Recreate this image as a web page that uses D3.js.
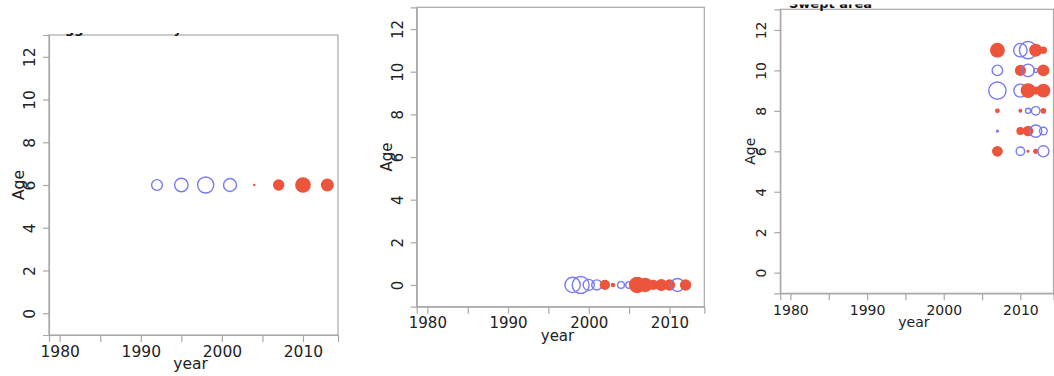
<!DOCTYPE html>
<html>
<head>
<meta charset="utf-8">
<script src="https://cdn.jsdelivr.net/npm/d3@7"></script>
<style>
  html, body { margin: 0; padding: 0; background: #fff; }
  svg { display: block; }
</style>
</head>
<body>
<svg id="chart" width="1054" height="376"></svg>
<script>
// Axis ticks shared by all three residual panels
const yearTicks = [1980, 1985, 1990, 1995, 2000, 2005, 2010];
const yearLabels = [1980, 1990, 2000, 2010];
const ageTicks = [0, 2, 4, 6, 8, 10, 12];

// Fleet titles
const fleetNames = ["Egg index survey", "", "Swept area"];

// Fleet 1: egg survey residuals (age 6 only)
const eggYear  = [1992, 1995, 1998, 2001, 2004, 2007, 2010, 2013];
const eggAge   = [6, 6, 6, 6, 6, 6, 6, 6];
const eggResid = [-0.9, -1.4, -2.0, -1.3, 0.05, 1.0, 1.9, 1.3];

// Fleet 2: recruitment index residuals (age 0)
const recYear  = [1998, 1999, 2000, 2001, 2002, 2003, 2004, 2005, 2006, 2007, 2008, 2009, 2010, 2011, 2012];
const recAge   = [0, 0, 0, 0, 0, 0, 0, 0, 0, 0, 0, 0, 0, 0, 0];
const recResid = [-1.8, -2.2, -0.95, -0.8, 0.8, 0.15, -0.35, -0.35, 2.1, 1.6, 0.8, 1.1, 1.0, -1.3, 1.0];

// Fleet 3: swept-area survey residuals (ages 6-11)
const sweptYear  = [2007, 2010, 2011, 2012, 2013,
                    2007, 2010, 2011, 2012, 2013,
                    2007, 2010, 2011, 2012, 2013,
                    2007, 2010, 2011, 2012, 2013,
                    2007, 2010, 2011, 2012, 2013,
                    2007, 2010, 2011, 2012, 2013];
const sweptAge   = [11, 11, 11, 11, 11,
                    10, 10, 10, 10, 10,
                     9,  9,  9,  9,  9,
                     8,  8,  8,  8,  8,
                     7,  7,  7,  7,  7,
                     6,  6,  6,  6,  6];
const sweptResid = [ 1.7, -1.4, -2.3,  1.3,  0.4,
                    -0.85, 0.95, -1.2, -0.12, 1.1,
                    -2.3, -1.3,  1.7,  0.5,  1.5,
                     0.18, 0.12, -0.2, -0.55, 0.25,
                    -0.03, 0.5,  0.85, -1.15, -0.45,
                     0.9, -0.55, 0.07,  0.2, -0.95];

const fleets = [
  { year: eggYear,   age: eggAge,   resid: eggResid,   title: fleetNames[0] },
  { year: recYear,   age: recAge,   resid: recResid,   title: fleetNames[1] },
  { year: sweptYear, age: sweptAge, resid: sweptResid, title: fleetNames[2] }
];

// Panel frames and text sizes
const frames = [
  { left: 49,    right: 338,    top: 35,  bottom: 335,   font: 15.5, titleX: 56,  titleY: 32.5, clipTop: 33 },
  { left: 416.7, right: 704.3,  top: 7.3, bottom: 306.7, font: 15,   titleX: 424, titleY: 4,    clipTop: 0 },
  { left: 780.3, right: 1053.5, top: 9.3, bottom: 293.3, font: 14,   titleX: 789, titleY: 8.3,  clipTop: 4.5 }
];

const xDomain = [1978.68, 2014.32];
const yDomain = [-1.02, 13.02];
const radius = d3.scaleSqrt().domain([0, 1]).range([0, 5.7]);

const FONT = "'DejaVu Sans', sans-serif";
const posColor = "#ec553b";
const negColor = "#7a7af0";
const frameColor = "#a8a8a8";
const textColor = "#222";

const svg = d3.select("#chart");
const defs = svg.append("defs");

fleets.forEach((fleet, i) => {
  const f = frames[i];
  const x = d3.scaleLinear().domain(xDomain).range([f.left, f.right]);
  const y = d3.scaleLinear().domain(yDomain).range([f.bottom, f.top]);
  const g = svg.append("g").attr("class", "panel");

  // plot frame
  g.append("rect")
    .attr("x", f.left).attr("y", f.top)
    .attr("width", f.right - f.left).attr("height", f.bottom - f.top)
    .attr("fill", "none").attr("stroke", frameColor).attr("stroke-width", 1.2);

  // bottom axis
  const xAxis = d3.axisBottom(x)
    .tickValues(yearTicks)
    .tickSize(7)
    .tickPadding(4)
    .tickFormat(d => yearLabels.includes(d) ? String(d) : "");
  const gx = g.append("g")
    .attr("transform", `translate(0,${f.bottom})`)
    .call(xAxis)
    .attr("font-family", null).attr("font-size", null);
  gx.select(".domain").attr("stroke", frameColor).attr("stroke-width", 1.2);
  gx.selectAll(".tick line").attr("stroke", frameColor).attr("stroke-width", 1.2);
  gx.selectAll(".tick text")
    .attr("fill", textColor)
    .style("font-family", FONT)
    .style("font-size", f.font + "px")
    .attr("dy", null)
    .attr("y", 16.5)
    .attr("dominant-baseline", "central");

  // left axis with rotated labels
  const yAxis = d3.axisLeft(y).tickValues(ageTicks).tickSize(6).tickFormat(d3.format("d"));
  const gy = g.append("g")
    .attr("transform", `translate(${f.left},0)`)
    .call(yAxis)
    .attr("font-family", null).attr("font-size", null);
  gy.select(".domain").attr("stroke", frameColor).attr("stroke-width", 1.2);
  gy.selectAll(".tick line").attr("stroke", frameColor).attr("stroke-width", 1.2);
  gy.selectAll(".tick text")
    .attr("fill", textColor)
    .style("font-family", FONT)
    .style("font-size", f.font + "px")
    .attr("x", null).attr("dy", null)
    .attr("text-anchor", "middle")
    .attr("dominant-baseline", "central")
    .attr("transform", "translate(-19,0) rotate(-90)");

  // axis titles
  g.append("text")
    .attr("x", (f.left + f.right) / 2 - 3)
    .attr("y", f.bottom + 29)
    .attr("text-anchor", "middle")
    .attr("dominant-baseline", "central")
    .attr("fill", textColor)
    .style("font-family", FONT)
    .style("font-size", f.font + "px")
    .text("year");
  g.append("text")
    .attr("transform", `translate(${f.left - 30},${(f.top + f.bottom) / 2}) rotate(-90)`)
    .attr("text-anchor", "middle")
    .attr("dominant-baseline", "central")
    .attr("fill", textColor)
    .style("font-family", FONT)
    .style("font-size", f.font + "px")
    .text("Age");

  // fleet title, clipped at the top edge of the panel area
  if (fleet.title) {
    const clipId = "titleClip" + i;
    defs.append("clipPath").attr("id", clipId)
      .append("rect")
      .attr("x", f.left - 10).attr("y", f.clipTop)
      .attr("width", f.right - f.left + 20).attr("height", 40);
    g.append("text")
      .attr("clip-path", `url(#${clipId})`)
      .attr("x", f.titleX).attr("y", f.titleY)
      .attr("fill", "#111")
      .style("font-family", FONT)
      .style("font-size", "13px")
      .style("font-weight", "bold")
      .text(fleet.title);
  }

  // residual bubbles: filled red for positive, open blue for negative
  const pts = fleet.year.map((yr, k) => ({ year: yr, age: fleet.age[k], resid: fleet.resid[k] }));
  g.append("g").selectAll("circle")
    .data(pts)
    .join("circle")
    .attr("cx", d => x(d.year))
    .attr("cy", d => y(d.age))
    .attr("r", d => radius(Math.abs(d.resid)))
    .attr("fill", d => d.resid > 0 ? posColor : "none")
    .attr("stroke", d => d.resid > 0 ? "none" : negColor)
    .attr("stroke-width", 1.4);
});
</script>
</body>
</html>
